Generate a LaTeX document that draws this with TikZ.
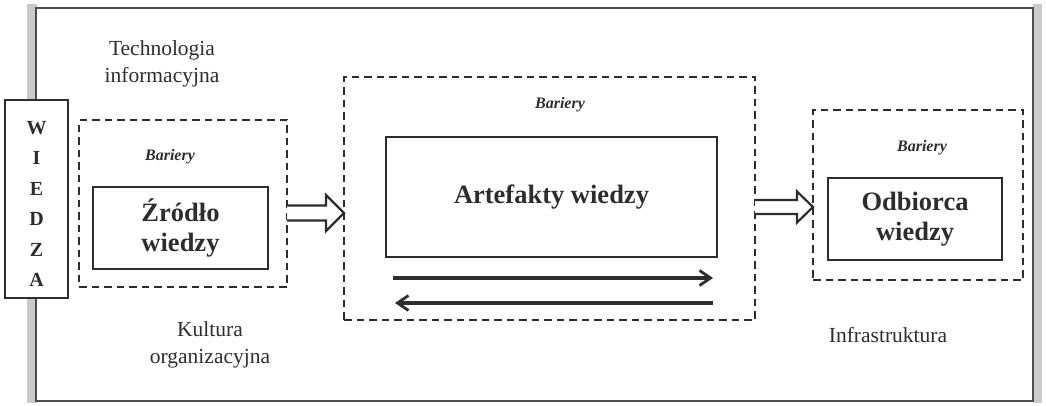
\documentclass[tikz,border=0pt]{standalone}
\usepackage{fontspec}
\setmainfont{Liberation Serif}
\usetikzlibrary{arrows.meta,calc}
\definecolor{ink}{RGB}{45,45,45}
\definecolor{band}{RGB}{165,168,165}
\begin{document}
\begin{tikzpicture}[x=1pt,y=-1pt,
  every node/.style={inner sep=0pt,outer sep=0pt,text=ink},
  lbl/.style={align=center,font=\fontsize{21.5}{27}\selectfont},
  bar/.style={font=\fontsize{16}{18}\selectfont\bfseries\itshape},
  dbox/.style={draw=ink,line width=2.3pt,dash pattern=on 7.5pt off 5pt,rectangle},
  sbox/.style={draw=ink,line width=2.2pt,rectangle,align=center,font=\fontsize{26.5}{30}\selectfont\bfseries},
  thinarrow/.style={draw=ink,line width=3.4pt,-{Straight Barb[length=11pt,width=15pt,line width=2.8pt]}},
  blockarrow/.style={draw=ink,line width=2.2pt,fill=white,line join=miter}
]
\useasboundingbox (0,0) rectangle (1046,405);
% frame
\fill[band!60] (27,4) rectangle (37,403);
\fill[band!60] (1033,4) rectangle (1042,403);
\draw[ink!85,line width=2.6pt] (36,8) rectangle (1033,401);

% WIEDZA
\node[draw=ink,fill=white,line width=2.2pt,minimum width=63pt,minimum height=198pt] (wiedza) at (36.5,199) {};
\node[align=center,font=\fontsize{20}{30.5}\selectfont\bfseries] (wiedzatxt) at (36.5,204)
  {W\\I\\E\\D\\Z\\A};

% source
\node[dbox,minimum width=208pt,minimum height=167pt] (srcd) at (183,203.5) {};
\node[bar] (bar1) at (170,157) {Bariery};
\node[sbox,minimum width=175pt,minimum height=82pt] (src) at (180.5,228) {Źródło\\wiedzy};
\node[lbl] (tech) at (162,63.5) {Technologia\\informacyjna};
\node[lbl] (kult) at (210,345) {Kultura\\organizacyjna};

% artefacts
\node[dbox,minimum width=411pt,minimum height=243pt] (artd) at (549.5,198.5) {};
\node[bar] (bar2) at (560,105) {Bariery};
\node[sbox,minimum width=331pt,minimum height=120pt] (art) at (551.5,197) {Artefakty wiedzy};
\coordinate (a1s) at (393,278);
\coordinate (a1e) at (713,278);
\coordinate (a2s) at (713,303);
\coordinate (a2e) at (395,303);
\draw[thinarrow] (a1s) -- (a1e);
\draw[thinarrow] (a2s) -- (a2e);

% receiver
\node[dbox,minimum width=210pt,minimum height=170pt] (recd) at (918,195) {};
\node[bar] (bar3) at (922,148) {Bariery};
\node[sbox,minimum width=174pt,minimum height=82pt] (rec) at (915,219) {Odbiorca\\wiedzy};
\node[lbl] (infra) at (888,335) {Infrastruktura};

% block arrows
\coordinate (b1s) at (srcd.east |- 0,213);
\coordinate (b1e) at (artd.west |- 0,213);
\draw[blockarrow] ($(b1s)+(0,-7.5)$) -- ($(b1e)+(-18,-7.5)$) -- ($(b1e)+(-18,-18)$) -- (b1e)
  -- ($(b1e)+(-18,18)$) -- ($(b1e)+(-18,7.5)$) -- ($(b1s)+(0,7.5)$);
\coordinate (b2s) at (artd.east |- 0,207);
\coordinate (b2e) at (recd.west |- 0,207);
\draw[blockarrow] ($(b2s)+(0,-7)$) -- ($(b2e)+(-16,-7)$) -- ($(b2e)+(-16,-15.5)$) -- (b2e)
  -- ($(b2e)+(-16,15.5)$) -- ($(b2e)+(-16,7)$) -- ($(b2s)+(0,7)$);
\end{tikzpicture}
\end{document}
